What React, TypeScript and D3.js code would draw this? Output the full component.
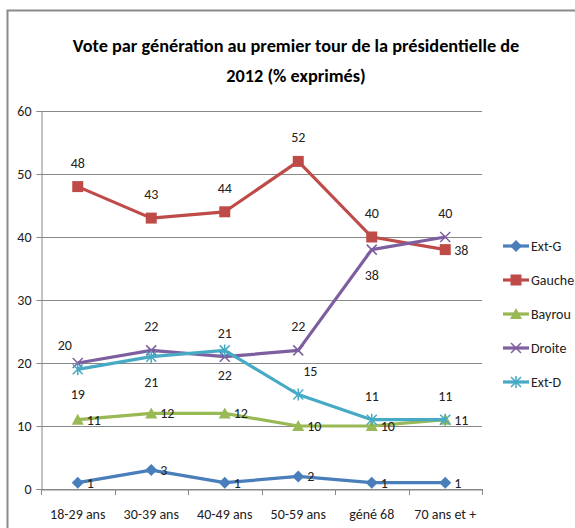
import { useEffect, useRef } from "react";
import * as d3 from "d3";

const categories = ["18-29 ans", "30-39 ans", "40-49 ans", "50-59 ans", "géné 68", "70 ans et +"];
const seriesNames = ["Ext-G", "Gauche", "Bayrou", "Droite", "Ext-D"];
const extG = [1, 3, 1, 2, 1, 1];
const gauche = [48, 43, 44, 52, 40, 38];
const bayrou = [11, 12, 12, 10, 10, 11];
const droite = [20, 22, 21, 22, 38, 40];
const extD = [19, 21, 22, 15, 11, 11];
const yTicks = [0, 10, 20, 30, 40, 50, 60];

// where each data label sits relative to its point (t = top, b = below, r = right)
const labelPlaces = [
  ["r", "r", "r", "r", "r", "r"],
  ["t", "t", "t", "t", "t", "r"],
  ["r", "r", "r", "r", "r", "r"],
  ["tl", "t", "t", "t", "b", "t"],
  ["b", "b", "b", "tr", "t", "t"],
];

const colors = ["#4a7ebb", "#be4b48", "#98b954", "#7d5fa0", "#46aac5"];
const markers = ["diamond", "square", "triangle", "x", "star"];
const FONT = "Carlito, 'Liberation Sans Narrow', Lato, sans-serif";

const App = () => {
  const svgRef = useRef<SVGSVGElement>(null);

  useEffect(() => {
    const width = 575;
    const height = 528;
    const margin = { top: 111, right: 93, bottom: 39, left: 41 };
    const values = [extG, gauche, bayrou, droite, extD];

    const svg = d3.select(svgRef.current);
    svg.selectAll("*").remove();
    svg.attr("width", width).attr("height", height);

    svg.append("rect").attr("width", width).attr("height", height).attr("fill", "white");

    // chart frame (only top & left visible)
    svg.append("rect")
      .attr("x", 7.5).attr("y", 10.5)
      .attr("width", 600).attr("height", 600)
      .attr("fill", "none")
      .attr("stroke", "#8a8a8a")
      .attr("stroke-width", 2);

    const titleLines = ["Vote par génération au premier tour de la présidentielle de", "2012 (% exprimés)"];
    svg.append("g")
      .selectAll("text")
      .data(titleLines)
      .join("text")
      .attr("x", 296)
      .attr("y", (_, i) => 52 + i * 30)
      .attr("text-anchor", "middle")
      .attr("font-family", FONT)
      .attr("font-size", 18.3)
      .attr("font-weight", "bold")
      .attr("fill", "#000")
      .text((d) => d);

    const x = d3.scaleBand()
      .domain(categories)
      .range([margin.left, width - margin.right]);

    const y = d3.scaleLinear()
      .domain([0, 60])
      .range([height - margin.bottom, margin.top]);

    // grid
    svg.append("g")
      .selectAll("line")
      .data(yTicks)
      .join("line")
      .attr("x1", margin.left)
      .attr("x2", width - margin.right)
      .attr("y1", (d) => Math.round(y(d)) + 0.5)
      .attr("y2", (d) => Math.round(y(d)) + 0.5)
      .attr("stroke", "#888")
      .attr("stroke-width", 1);

    // y axis
    const yAxis = svg.append("g")
      .attr("transform", `translate(${margin.left + 0.5},0)`)
      .call(d3.axisLeft(y).tickValues(yTicks).tickSize(5).tickFormat(d3.format("d")));
    yAxis.select(".domain").attr("stroke", "#888");
    yAxis.selectAll(".tick line").attr("stroke", "#888");
    yAxis.selectAll(".tick text")
      .attr("font-family", FONT).attr("font-size", 14).attr("fill", "#222").attr("x", -10);

    // x axis
    const xAxis = svg.append("g")
      .attr("transform", `translate(0,${Math.round(y(0)) + 0.5})`)
      .call(d3.axisBottom(x).tickSize(0).tickSizeOuter(0));
    xAxis.select(".domain").attr("stroke", "#888");
    xAxis.selectAll(".tick text")
      .attr("font-family", FONT).attr("font-size", 14).attr("fill", "#222").attr("dy", 0).attr("y", 29);
    svg.append("g")
      .selectAll("line")
      .data(d3.range(categories.length + 1))
      .join("line")
      .attr("x1", (i) => Math.round(margin.left + i * x.step()) + 0.5)
      .attr("x2", (i) => Math.round(margin.left + i * x.step()) + 0.5)
      .attr("y1", y(0))
      .attr("y2", y(0) + 6)
      .attr("stroke", "#888");

    const cx = (i: number) => (x(categories[i]) as number) + x.bandwidth() / 2;

    const drawMarker = (g: any, kind: string, color: string, px: number, py: number) => {
      if (kind === "diamond") {
        g.append("path")
          .attr("d", `M${px},${py - 6}L${px + 6},${py}L${px},${py + 6}L${px - 6},${py}Z`)
          .attr("fill", color);
      } else if (kind === "square") {
        g.append("rect")
          .attr("x", px - 5.5).attr("y", py - 5.5)
          .attr("width", 11).attr("height", 11)
          .attr("fill", color);
      } else if (kind === "triangle") {
        g.append("path")
          .attr("d", `M${px},${py - 6}L${px + 6},${py + 5}L${px - 6},${py + 5}Z`)
          .attr("fill", color);
      } else if (kind === "x") {
        g.append("path")
          .attr("d", `M${px - 5},${py - 5}L${px + 5},${py + 5}M${px - 5},${py + 5}L${px + 5},${py - 5}`)
          .attr("stroke", color).attr("stroke-width", 1.5).attr("fill", "none");
      } else {
        g.append("path")
          .attr("d", `M${px - 5},${py - 5}L${px + 5},${py + 5}M${px - 5},${py + 5}L${px + 5},${py - 5}M${px},${py - 6}L${px},${py + 6}`)
          .attr("stroke", color).attr("stroke-width", 1.5).attr("fill", "none");
      }
    };

    const line = d3.line<number>()
      .x((_, i) => cx(i))
      .y((d) => y(d));

    values.forEach((vals, s) => {
      const g = svg.append("g");
      g.append("path")
        .datum(vals)
        .attr("d", line)
        .attr("fill", "none")
        .attr("stroke", colors[s])
        .attr("stroke-width", 3.2)
        .attr("stroke-linejoin", "round");
      vals.forEach((v, i) => drawMarker(g, markers[s], colors[s], cx(i), y(v)));
    });

    // data labels
    values.forEach((vals, s) => {
      vals.forEach((v, i) => {
        const p = labelPlaces[s][i];
        let dx = 0;
        let dy = 0;
        let anchor = "middle";
        if (p === "r") { dx = 9; dy = 5; anchor = "start"; }
        else if (p === "t") { dy = -19; }
        else if (p === "b") { dy = 30; }
        else if (p === "tl") { dx = -13; dy = -13; }
        else if (p === "tr") { dx = 12; dy = -19; }
        svg.append("text")
          .attr("x", cx(i) + dx)
          .attr("y", y(v) + dy)
          .attr("text-anchor", anchor)
          .attr("font-family", FONT)
          .attr("font-size", 14)
          .attr("fill", "#222")
          .text(v);
      });
    });

    // legend
    const legend = svg.append("g").attr("transform", "translate(503,246)");
    seriesNames.forEach((name, s) => {
      const row = legend.append("g").attr("transform", `translate(0,${s * 34})`);
      row.append("line")
        .attr("x1", 0).attr("x2", 26)
        .attr("stroke", colors[s]).attr("stroke-width", 3.2);
      drawMarker(row, markers[s], colors[s], 13, 0);
      row.append("text")
        .attr("x", 28).attr("y", 5)
        .attr("font-family", FONT)
        .attr("font-size", 14)
        .attr("fill", "#222")
        .text(name);
    });
  }, []);

  return (
    <div style={{ position: "absolute", left: 0, top: 0 }}>
      <svg ref={svgRef}></svg>
    </div>
  );
};

export default App;
